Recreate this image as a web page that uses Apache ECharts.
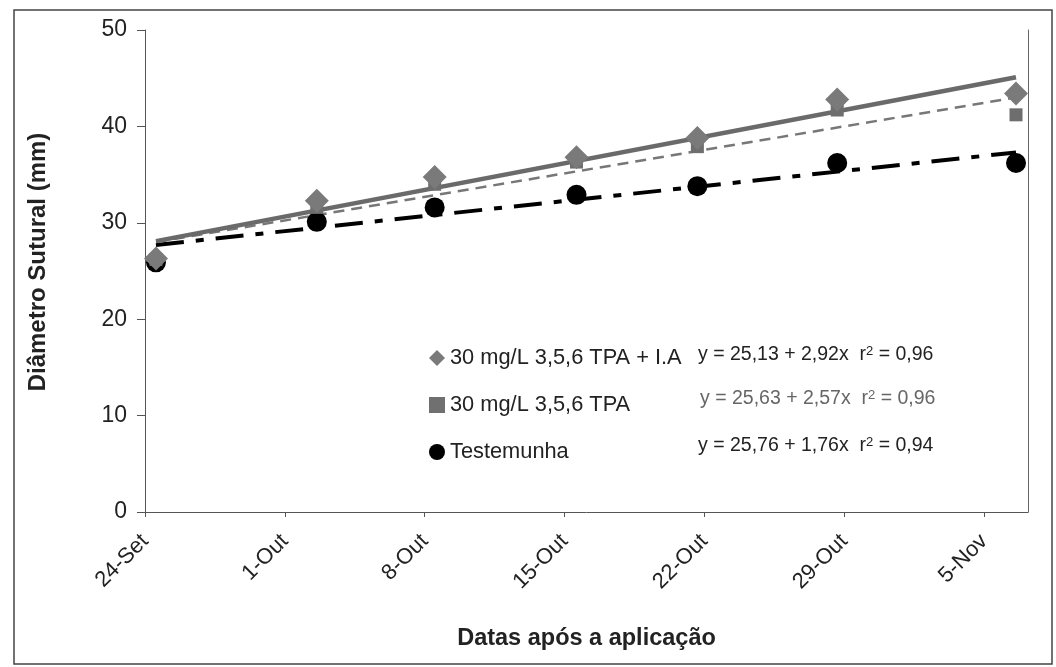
<!DOCTYPE html>
<html><head><meta charset="utf-8">
<script src="https://cdn.jsdelivr.net/npm/echarts@6/dist/echarts.min.js"></script>
<style>html,body{margin:0;padding:0;background:#fff}#c{width:1056px;height:667px}</style>
</head><body><div id="c"></div>
<script>
// Days after 24-Set for each sampling date
var sampleDays = [0.55, 8.6, 14.5, 21.6, 27.65, 34.65, 43.6];
var tickLabels = ['24-Set', '1-Out', '8-Out', '15-Out', '22-Out', '29-Out', '5-Nov'];
var tpaIA = [26.3, 32.3, 34.75, 36.8, 38.8, 42.8, 43.4];
var tpa = [26.2, 31.6, 34.0, 36.3, 37.9, 41.7, 41.2];
var testemunha = [25.9, 30.1, 31.6, 32.9, 33.8, 36.2, 36.2];
// Trendline endpoints (first and last sample)
var trendIA = [28.1, 45.1];
var trendTPA = [28.0, 43.0];
var trendTest = [27.7, 37.3];
var names = ['30 mg/L 3,5,6 TPA + I.A', '30 mg/L 3,5,6 TPA', 'Testemunha'];
var equations = ['y = 25,13 + 2,92x  r{s|2} = 0,96', 'y = 25,63 + 2,57x  r{s|2} = 0,96', 'y = 25,76 + 1,76x  r{s|2} = 0,94'];

function pts(vals){ return vals.map(function(v,i){ return [sampleDays[i], v]; }); }
function trend(vals){ return [[sampleDays[0], vals[0]], [sampleDays[sampleDays.length-1], vals[1]]]; }

var F = 'Liberation Sans, Arial, sans-serif';
function eq(i, x, y, col){
  return {type: 'text', x: x, y: y, silent: true,
    style: {text: equations[i], fontFamily: F, fontSize: 19.5, fill: col, verticalAlign: 'middle',
      rich: {s: {fontSize: 13, verticalAlign: 'top', padding: [0,0,8,0], fill: col, fontFamily: F}}}};
}
var chart = echarts.init(document.getElementById('c'));
chart.setOption({
  animation: false,
  backgroundColor: '#fff',
  grid: {left: 145, right: 28, top: 30, bottom: 155},
  xAxis: {
    type: 'value', min: 0, max: 44.2, interval: 7,
    axisLine: {lineStyle: {color: '#555', width: 1}},
    axisTick: {show: true, length: 5, lineStyle: {color: '#555'}},
    splitLine: {show: false},
    axisLabel: {
      rotate: 45, fontFamily: F, fontSize: 22, color: '#222', margin: 26,
      showMaxLabel: false,
      formatter: function(v){ var i = Math.round(v/7); return Math.abs(v - i*7) < 1e-6 ? (tickLabels[i] || '') : ''; }
    },
    name: 'Datas após a aplicação', nameLocation: 'middle', nameGap: 115,
    nameTextStyle: {fontFamily: F, fontSize: 23.5, fontWeight: 'bold', color: '#222'}
  },
  yAxis: [{
    type: 'value', min: 0, max: 50, interval: 10,
    axisLine: {show: true, lineStyle: {color: '#555', width: 1}},
    axisTick: {show: true, length: 8, lineStyle: {color: '#555'}},
    splitLine: {show: false},
    axisLabel: {fontFamily: F, fontSize: 23, color: '#222', margin: 18}
  }, {
    type: 'value', min: 0, max: 50, position: 'right',
    axisLine: {show: true, lineStyle: {color: '#666', width: 1}},
    axisTick: {show: false}, axisLabel: {show: false}, splitLine: {show: false}
  }],
  legend: {
    orient: 'vertical', left: 424, top: 342, itemGap: 25, itemWidth: 16, itemHeight: 16, itemGap: 25,
    textStyle: {fontFamily: F, fontSize: 21.8, color: '#222'},
    data: [
      {name: names[0], icon: 'diamond', itemStyle: {color: '#7a7a7a', opacity: 1}},
      {name: names[1], icon: 'rect', itemStyle: {color: '#707070', opacity: 1}},
      {name: names[2], icon: 'circle', itemStyle: {color: '#000', opacity: 1}}
    ]
  },
  graphic: [
    {type: 'rect', shape: {x: 14, y: 10, width: 1038, height: 654}, style: {fill: 'none', stroke: '#444', lineWidth: 1.5}, silent: true},
    {type: 'text', x: 38, y: 262, rotation: Math.PI/2, silent: true,
     style: {text: 'Diâmetro Sutural (mm)', fontFamily: F, fontSize: 24, fontWeight: 'bold', fill: '#222', align: 'center', verticalAlign: 'middle'}},
    eq(0, 698, 355, '#222'),
    eq(1, 700, 399, '#666'),
    eq(2, 698, 446, '#222')
  ],
  series: [
    {type: 'line', data: trend(trendTest), symbol: 'none', z: 2,
     lineStyle: {color: '#000', width: 4, type: [28, 12, 8, 12]}},
    {type: 'line', data: trend(trendTPA), symbol: 'none', z: 2,
     lineStyle: {color: '#777', width: 2.5, type: [11, 7]}},
    {type: 'line', data: trend(trendIA), symbol: 'none', z: 2,
     lineStyle: {color: '#6a6a6a', width: 4.5}},
    {name: names[2], type: 'scatter', data: pts(testemunha), symbol: 'circle', symbolSize: 20, z: 3,
     itemStyle: {color: '#000', opacity: 1}},
    {name: names[1], type: 'scatter', data: pts(tpa), symbol: 'rect', symbolSize: 13, z: 4,
     itemStyle: {color: '#6e6e6e', opacity: 1}},
    {name: names[0], type: 'scatter', data: pts(tpaIA), symbol: 'diamond', symbolSize: 24, z: 5,
     itemStyle: {color: '#7a7a7a', opacity: 1}}
  ]
});
</script></body></html>
